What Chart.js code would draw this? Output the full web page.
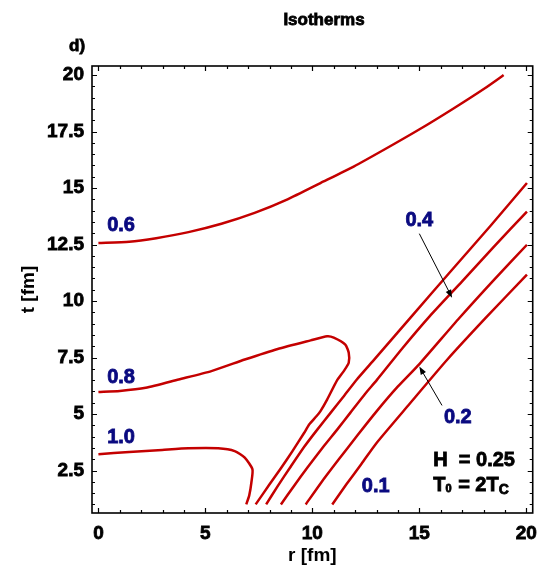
<!DOCTYPE html>
<html><head><meta charset="utf-8">
<script src="https://cdn.jsdelivr.net/npm/chart.js@4/dist/chart.umd.min.js"></script>
<style>html,body{margin:0;padding:0;background:#fff}</style>
</head><body>
<canvas id="c" width="546" height="570"></canvas>
<script>
// ---- data (r in fm, t in fm) ----
const iso06_r = [0, 1.44, 2.70, 4.21, 5.75, 7.30, 8.84, 10.38, 11.93, 13.47, 15.01, 16.56, 18.10, 18.94];
const iso06_t = [12.57, 12.62, 12.78, 13.05, 13.42, 13.90, 14.50, 15.22, 15.95, 16.76, 17.60, 18.50, 19.44, 20.0];

const iso08_r = [0, 1.0, 2.21, 3.75, 5.28, 6.84, 8.38, 9.92, 10.69, 11.0, 11.54, 11.7, 11.7, 11.47, 11.16, 10.69, 10.38, 10.2, 9.85, 9.62, 9.07, 8.53, 8.0, 7.35];
const iso08_t = [5.97, 6.02, 6.16, 6.53, 6.9, 7.41, 7.88, 8.26, 8.44, 8.38, 8.07, 7.71, 7.27, 6.9, 6.5, 5.64, 5.13, 4.91, 4.54, 4.17, 3.36, 2.6, 1.89, 1.0];

const iso10_r = [0, 1.44, 2.98, 4.21, 5.6, 6.37, 6.84, 7.2, 7.15, 7.05, 6.91];
const iso10_t = [3.22, 3.32, 3.41, 3.48, 3.48, 3.36, 3.07, 2.55, 1.97, 1.4, 1.0];

const isoA_r = [7.84, 8.38, 9.0, 9.62, 10.23, 10.85, 11.47, 12.08, 12.93, 14.71, 16.5, 18.3, 20.03];
const isoA_t = [1.0, 1.81, 2.69, 3.55, 4.31, 5.05, 5.79, 6.53, 7.45, 9.4, 11.35, 13.3, 15.22];

const iso04_r = [8.53, 9.15, 9.77, 10.54, 11.16, 11.77, 12.47, 13.01, 14.2, 15.48, 17.0, 18.5, 20.03];
const iso04_t = [1.0, 1.83, 2.63, 3.58, 4.31, 5.05, 5.9, 6.5, 7.9, 9.32, 10.87, 12.42, 13.96];

const iso02_r = [9.69, 10.4, 11.2, 12.1, 13.01, 14.0, 14.99, 16.87, 18.5, 20.03];
const iso02_t = [1.0, 1.95, 2.95, 4.05, 5.13, 6.22, 7.2, 9.25, 10.95, 12.49];

const iso01_r = [10.93, 11.6, 12.3, 13.01, 14.5, 16.3, 18.1, 20.03];
const iso01_t = [1.0, 1.9, 2.8, 3.73, 5.4, 7.4, 9.25, 11.17];

const xTickVals = [0, 5, 10, 15, 20];
const yTickVals = [2.5, 5, 7.5, 10, 12.5, 15, 17.5, 20];

// curve labels: text, r, t
const labelText = ['0.6', '0.8', '1.0', '0.4', '0.2', '0.1'];
const labelR = [1.06, 1.06, 1.06, 15.0, 16.8, 12.96];
const labelT = [13.33, 6.62, 3.95, 13.55, 4.85, 1.8];
// arrows: from (r,t) to (r,t)
const arrowFromR = [15.0, 16.06], arrowFromT = [12.98, 5.38];
const arrowToR = [16.53, 15.0], arrowToT = [10.15, 7.1];

const RED = '#c40000', NAVY = '#0a0a80';
const FONT = "'Liberation Sans', Arial, sans-serif";

function pts(r, t) { return r.map((v, i) => ({x: v, y: t[i]})); }
function ds(r, t) {
  return {data: pts(r, t), showLine: true, borderColor: RED, borderWidth: 2.5,
          pointRadius: 0, tension: 0.2, fill: false};
}

function boldText(ctx, s, px, py, col) {
  ctx.fillStyle = col; ctx.strokeStyle = col; ctx.lineWidth = 0.8;
  ctx.fillText(s, px, py); ctx.strokeText(s, px, py);
}

const framePlugin = {
  id: 'frame',
  afterDraw(chart) {
    const {ctx, chartArea: a, scales: {x, y}} = chart;
    ctx.save();
    ctx.strokeStyle = '#000';
    ctx.lineWidth = 1.2;
    // ticks
    const majL = 5, minL = 3;
    for (let v = Math.ceil(x.min); v <= x.max; v += 1) {
      const px = Math.round(x.getPixelForValue(v)) + 0.5;
      const L = (v % 5 === 0) ? majL : minL;
      ctx.beginPath();
      ctx.moveTo(px, a.bottom); ctx.lineTo(px, a.bottom - L);
      ctx.moveTo(px, a.top); ctx.lineTo(px, a.top + L);
      ctx.stroke();
    }
    for (let v = Math.ceil(y.min * 2) / 2; v <= y.max; v += 0.5) {
      const py = Math.round(y.getPixelForValue(v)) + 0.5;
      const L = (Math.abs(v / 2.5 - Math.round(v / 2.5)) < 1e-6) ? majL : minL;
      ctx.beginPath();
      ctx.moveTo(a.left, py); ctx.lineTo(a.left + L, py);
      ctx.moveTo(a.right, py); ctx.lineTo(a.right - L, py);
      ctx.stroke();
    }
    ctx.lineWidth = 1.6;
    ctx.strokeRect(a.left, a.top, a.right - a.left, a.bottom - a.top);

    // title and panel tag
    ctx.textAlign = 'center'; ctx.textBaseline = 'middle';
    ctx.font = "bold 17px " + FONT;
    boldText(ctx, 'Isotherms', 324, 20, '#000');
    ctx.textAlign = 'left';
    boldText(ctx, 'd)', 69, 46, '#000');

    // curve labels
    ctx.font = "bold 20px " + FONT;
    ctx.textAlign = 'center';
    labelText.forEach((s, i) => {
      boldText(ctx, s, x.getPixelForValue(labelR[i]), y.getPixelForValue(labelT[i]), NAVY);
    });

    // arrows
    ctx.strokeStyle = '#000'; ctx.fillStyle = '#000'; ctx.lineWidth = 1;
    arrowFromR.forEach((r0, i) => {
      const x0 = x.getPixelForValue(r0), y0 = y.getPixelForValue(arrowFromT[i]);
      const x1 = x.getPixelForValue(arrowToR[i]), y1 = y.getPixelForValue(arrowToT[i]);
      const ang = Math.atan2(y1 - y0, x1 - x0);
      ctx.beginPath(); ctx.moveTo(x0, y0); ctx.lineTo(x1 - 5 * Math.cos(ang), y1 - 5 * Math.sin(ang)); ctx.stroke();
      ctx.beginPath();
      ctx.moveTo(x1, y1);
      ctx.lineTo(x1 - 8 * Math.cos(ang) + 3 * Math.sin(ang), y1 - 8 * Math.sin(ang) - 3 * Math.cos(ang));
      ctx.lineTo(x1 - 8 * Math.cos(ang) - 3 * Math.sin(ang), y1 - 8 * Math.sin(ang) + 3 * Math.cos(ang));
      ctx.closePath(); ctx.fill();
    });

    // parameter box
    ctx.textAlign = 'left';
    ctx.font = "bold 20px " + FONT;
    const bx = x.getPixelForValue(15.65);
    const hy = y.getPixelForValue(2.95), ty = y.getPixelForValue(1.85);
    boldText(ctx, 'H  = 0.25', bx, hy, '#000');
    let cx = bx;
    boldText(ctx, 'T', cx, ty, '#000'); cx += ctx.measureText('T').width;
    ctx.font = "bold 11px " + FONT;
    boldText(ctx, '0', cx, ty + 4, '#000'); cx += ctx.measureText('0').width + 1;
    ctx.font = "bold 20px " + FONT;
    boldText(ctx, ' = 2T', cx, ty, '#000'); cx += ctx.measureText(' = 2T').width;
    ctx.font = "bold 14px " + FONT;
    boldText(ctx, 'C', cx, ty + 5, '#000');
    ctx.restore();
  }
};

const tickFont = {family: FONT, weight: 'bold', size: 19};
new Chart(document.getElementById('c'), {
  type: 'scatter',
  data: {datasets: [
    ds(iso06_r, iso06_t), ds(iso08_r, iso08_t), ds(iso10_r, iso10_t),
    ds(isoA_r, isoA_t), ds(iso04_r, iso04_t), ds(iso02_r, iso02_t), ds(iso01_r, iso01_t)
  ]},
  options: {
    responsive: false, animation: false, devicePixelRatio: 1,
    layout: {padding: {top: 66, right: 9, left: 0, bottom: 0}},
    plugins: {legend: {display: false}, tooltip: {enabled: false}},
    scales: {
      x: {
        type: 'linear', min: -0.3, max: 20.3,
        grid: {display: false, drawTicks: false}, border: {display: false},
        afterBuildTicks: s => { s.ticks = xTickVals.map(v => ({value: v})); },
        afterFit: s => { s.height = 57; },
        ticks: {color: '#000', padding: 9, font: tickFont, textStrokeColor: '#000', textStrokeWidth: 0.8,
                callback: v => String(v)},
        title: {display: true, text: 'r [fm]', color: '#000',
                font: {family: FONT, weight: 'bold', size: 19}, padding: {top: 0, bottom: 3}}
      },
      y: {
        type: 'linear', min: 0.62, max: 20.4,
        grid: {display: false, drawTicks: false}, border: {display: false},
        afterBuildTicks: s => { s.ticks = yTickVals.map(v => ({value: v})); },
        afterFit: s => { s.width = 92; },
        ticks: {color: '#000', padding: 8, font: tickFont, textStrokeColor: '#000', textStrokeWidth: 0.8,
                callback: v => String(v)},
        title: {display: true, text: 't [fm]', color: '#000',
                font: {family: FONT, weight: 'bold', size: 19}, padding: {top: 17, bottom: 0}}
      }
    }
  },
  plugins: [framePlugin]
});
</script>
</body></html>
